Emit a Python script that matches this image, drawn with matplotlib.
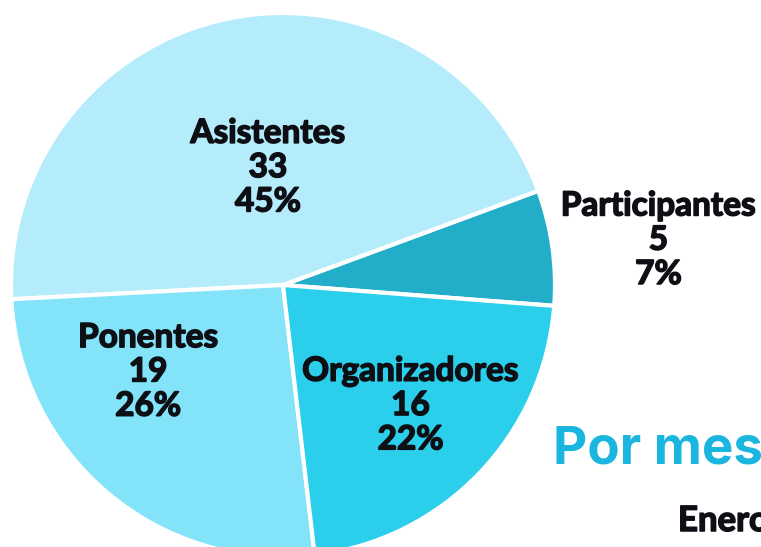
import numpy as np
import matplotlib.pyplot as plt
import matplotlib.patheffects as pe

categories = ["Participantes", "Asistentes", "Ponentes", "Organizadores"]
counts = [5, 33, 19, 16]
percents = ["7%", "45%", "26%", "22%"]
colors = ["#22aec9", "#b4ecfc", "#82e3f9", "#2bcfec"]

# label placement: (fraction of radius, angle in degrees)
label_pos = [(1.39, 6.8), (0.435, 97.3), (0.59, 212.8), (0.645, -43.4)]

W, H = 761, 547
fig = plt.figure(figsize=(W / 100, H / 100), dpi=100)
ax = fig.add_axes([0, 0, 1, 1])

cx, cy, R = 283, H - 285, 272
ax.pie(counts, colors=colors, startangle=-4.4, counterclock=True,
       center=(cx, cy), radius=R, frame=True,
       wedgeprops=dict(edgecolor="white", linewidth=3))
ax.set_xlim(0, W)
ax.set_ylim(0, H)
ax.set_aspect("equal")
ax.axis("off")

ink = "#0d0f14"
heavy = [pe.withStroke(linewidth=1.1, foreground=ink)]
font = dict(family=["Lato", "DejaVu Sans"], fontweight="bold", color=ink)
for cat, n, pct, (fr, ang) in zip(categories, counts, percents, label_pos):
    a = np.deg2rad(ang)
    x = cx + fr * R * np.cos(a)
    y = cy + fr * R * np.sin(a)
    ax.text(x, y, f"{cat}\n{n}\n{pct}", ha="center", va="center",
            fontsize=24, linespacing=1.22, path_effects=heavy, **font)

ax.text(553, H - 450, "Por mes", ha="left", va="center", fontsize=38,
        color="#1ab6df", fontweight="bold", family=["Inter", "DejaVu Sans"])
ax.text(678, H - 521, "Enero", ha="left", va="center", fontsize=25,
        path_effects=heavy, **font)

fig.savefig("out.png", dpi=100)
